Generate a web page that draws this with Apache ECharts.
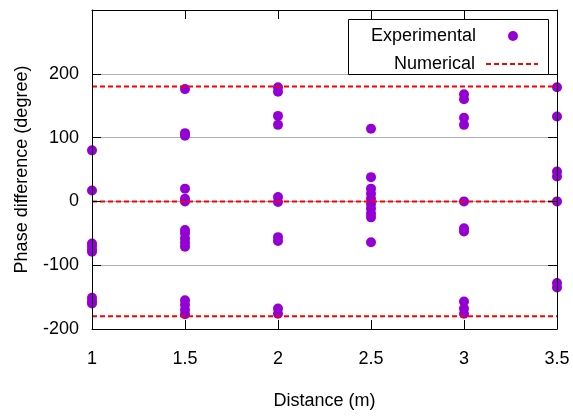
<!DOCTYPE html>
<html>
<head>
<meta charset="utf-8">
<script src="https://cdn.jsdelivr.net/npm/echarts@6/dist/echarts.min.js"></script>
<style>
html,body{margin:0;padding:0;background:#fff;}
#chart{width:573px;height:417px;}
</style>
</head>
<body>
<div id="chart"></div>
<script>
// Distances (m)
const distances = [1, 1.5, 2, 2.5, 3, 3.5];
// Experimental phase differences (degree) per distance
const phase_1_0 = [80, 17, -66, -70, -75, -79, -151, -156, -160];
const phase_1_5 = [176, 103, 107, 20, 4, 0, -45, -50, -58, -65, -71, -155, -162, -170, -177];
const phase_2_0 = [179, 172, 134, 120, 7, -1, -56, -62, -168, -176];
const phase_2_5 = [114, 38, 20, 12, 4, -4, -11, -19, -25, -64];
const phase_3_0 = [168, 160, 131, 120, 0, -42, -47, -157, -168, -176];
const phase_3_5 = [179, 133, 47, 39, 0, -128, -135];
// Numerical levels (degree)
const numericalLevels = [180, 0, -180];
// Axis ticks
const xMin = 1, xMax = 3.5, xStep = 0.5;
const yMin = -200, yMax = 300, yStep = 100;

const phaseSets = [phase_1_0, phase_1_5, phase_2_0, phase_2_5, phase_3_0, phase_3_5];
const expData = [];
distances.forEach((d, i) => phaseSets[i].forEach(v => expData.push([d, v])));

const FONT = 'Liberation Sans';
const txt = { fontFamily: FONT, fontSize: 18, color: '#000' };

const frameX = (pos) => ({
  type: 'value', gridIndex: 0, position: pos, min: xMin, max: xMax, interval: xStep,
  axisLine: { show: true, onZero: false, lineStyle: { color: '#000', width: 1 } },
  axisTick: { show: true, inside: true, length: 9, lineStyle: { color: '#000' } },
  axisLabel: { show: false }, splitLine: { show: false }, z: 10
});
const frameY = (pos) => ({
  type: 'value', gridIndex: 0, position: pos, min: yMin, max: yMax, interval: yStep,
  axisLine: { show: true, onZero: false, lineStyle: { color: '#000', width: 1 } },
  axisTick: { show: true, inside: true, length: 9, lineStyle: { color: '#000' } },
  axisLabel: { show: false }, splitLine: { show: false }, z: 10
});

const series = [{
  name: 'Experimental', type: 'scatter', xAxisIndex: 0, yAxisIndex: 0,
  data: expData, symbol: 'circle', symbolSize: 10, clip: false,
  itemStyle: { color: '#9400d3', opacity: 1 }, z: 5
}];
numericalLevels.forEach(lv => series.push({
  name: 'Numerical', type: 'line', xAxisIndex: 0, yAxisIndex: 0,
  data: [[xMin, lv], [xMax, lv]], symbol: 'none', showSymbol: false, silent: true,
  lineStyle: { color: '#ff0000', width: 2, type: [5, 3] },
  itemStyle: { color: '#ff0000' }, z: 6
}));

const chart = echarts.init(document.getElementById('chart'), null, { renderer: 'canvas' });
chart.setOption({
  animation: false,
  backgroundColor: '#fff',
  grid: { left: 92, right: 16, top: 10, bottom: 88, containLabel: false },
  xAxis: [
    {
      type: 'value', min: xMin, max: xMax, interval: xStep, position: 'bottom',
      axisLine: { show: false }, axisTick: { show: false }, splitLine: { show: false },
      axisLabel: Object.assign({ margin: 21 }, txt),
      name: 'Distance (m)', nameLocation: 'middle', nameGap: 63, nameTextStyle: txt, z: 0
    },
    frameX('bottom'), frameX('top')
  ],
  yAxis: [
    {
      type: 'value', min: yMin, max: yMax, interval: yStep, position: 'left',
      axisLine: { show: false }, axisTick: { show: false },
      splitLine: { show: true, lineStyle: { color: '#b0b0b0', width: 1 } },
      axisLabel: Object.assign({ margin: 13, showMaxLabel: false }, txt),
      name: 'Phase difference (degree)', nameLocation: 'middle', nameGap: 61,
      nameRotate: 90, nameTextStyle: txt, z: 0
    },
    frameY('left'), frameY('right')
  ],
  legend: [
    {
      data: ['Experimental'], right: 55, top: 27, orient: 'horizontal', align: 'right',
      itemWidth: 52, itemHeight: 10, padding: 0, itemGap: 0,
      textStyle: Object.assign({ padding: [0, 6, 0, 0] }, txt), selectedMode: false
    },
    {
      data: ['Numerical'], right: 34, top: 55, orient: 'horizontal', align: 'right',
      itemWidth: 52, itemHeight: 10, padding: 0, itemGap: 0,
      itemStyle: { opacity: 0 },
      textStyle: Object.assign({ padding: [0, 6, 0, 0] }, txt), selectedMode: false
    }
  ],
  graphic: [{
    type: 'rect', z: 3, silent: true,
    shape: { x: 348.5, y: 19.5, width: 200, height: 55 },
    style: { fill: '#fff', stroke: '#000', lineWidth: 1 }
  }],
  series: series
});
</script>
</body>
</html>
